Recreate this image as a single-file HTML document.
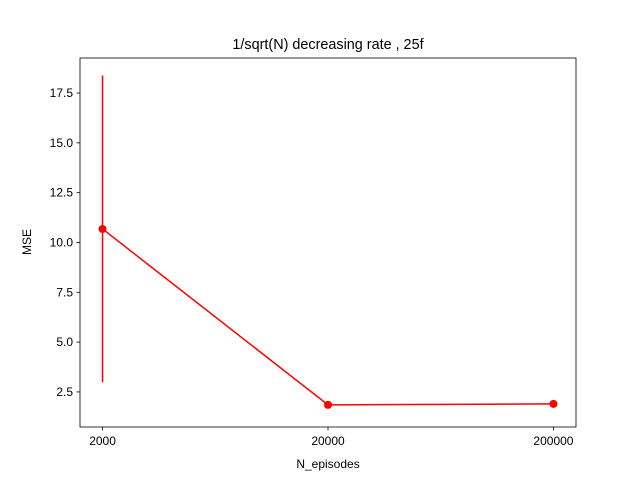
<!DOCTYPE html>
<html><head><meta charset="utf-8"><style>
body{margin:0;background:#fff;}
svg{display:block;font-family:"Liberation Sans","DejaVu Sans",sans-serif;}
</style></head><body>
<svg id="chart" width="640" height="480">
<rect x="0" y="0" width="640" height="480" fill="#fff"/>
<text x="328" y="49" text-anchor="middle" font-size="14.4" fill="#000">1/sqrt(N) decreasing rate , 25f</text>
<g id="plot"></g>
<rect x="80" y="58" width="496" height="369" fill="none" stroke="#000" stroke-width="0.8"/>
<text x="328" y="468" text-anchor="middle" font-size="12" fill="#000">N_episodes</text>
<text x="0" y="0" transform="translate(31,242) rotate(-90)" text-anchor="middle" font-size="12" fill="#000">MSE</text>
</svg>
<script>
const categories = ["2000", "20000", "200000"];
const mseValues = [10.68, 1.85, 1.9];
const errValues = [7.7, 0.08, 0.06];
const yTicks = [2.5, 5.0, 7.5, 10.0, 12.5, 15.0, 17.5];
const yTickLabels = ["2.5", "5.0", "7.5", "10.0", "12.5", "15.0", "17.5"];

const NS = "http://www.w3.org/2000/svg";
const L = 80, R = 576, T = 58, B = 427;
const xMin = -0.1, xMax = categories.length - 1 + 0.1;
const yMin = 0.74, yMax = 19.26;
const xs = i => L + (i - xMin) / (xMax - xMin) * (R - L);
const ys = v => B - (v - yMin) / (yMax - yMin) * (B - T);
const g = document.getElementById("plot");
function mk(tag, attrs){ const e = document.createElementNS(NS, tag); for (const k in attrs) e.setAttribute(k, attrs[k]); g.appendChild(e); return e; }

yTicks.forEach((v, i) => {
  const y = ys(v);
  const t = mk("line", {x1: L - 3.5, x2: L, y1: y, y2: y, stroke: "#000", "stroke-width": 0.8});
  
  
  const lb = mk("text", {x: L - 7, y: y + 4, "text-anchor": "end", "font-size": 12, fill: "#000"});
  lb.textContent = yTickLabels[i];
  
  
});
categories.forEach((c, i) => {
  const x = xs(i);
  const t = mk("line", {x1: x, x2: x, y1: B, y2: B + 3.5, stroke: "#000", "stroke-width": 0.8});
  
  
  const lb = mk("text", {x: x, y: B + 18, "text-anchor": "middle", "font-size": 12, fill: "#000"});
  lb.textContent = c;
  
  
});
categories.forEach((c, i) => {
  const e = mk("line", {x1: xs(i), x2: xs(i), y1: ys(mseValues[i] - errValues[i]), y2: ys(mseValues[i] + errValues[i]), stroke: "red", "stroke-width": 1.5});
  
  
});
const pl = mk("polyline", {points: mseValues.map((v, i) => xs(i) + "," + ys(v)).join(" "), fill: "none", stroke: "red", "stroke-width": 1.5});


mseValues.forEach((v, i) => {
  const p = mk("circle", {cx: xs(i), cy: ys(v), r: 4, fill: "red"});
  
  
});
</script>
</body></html>
